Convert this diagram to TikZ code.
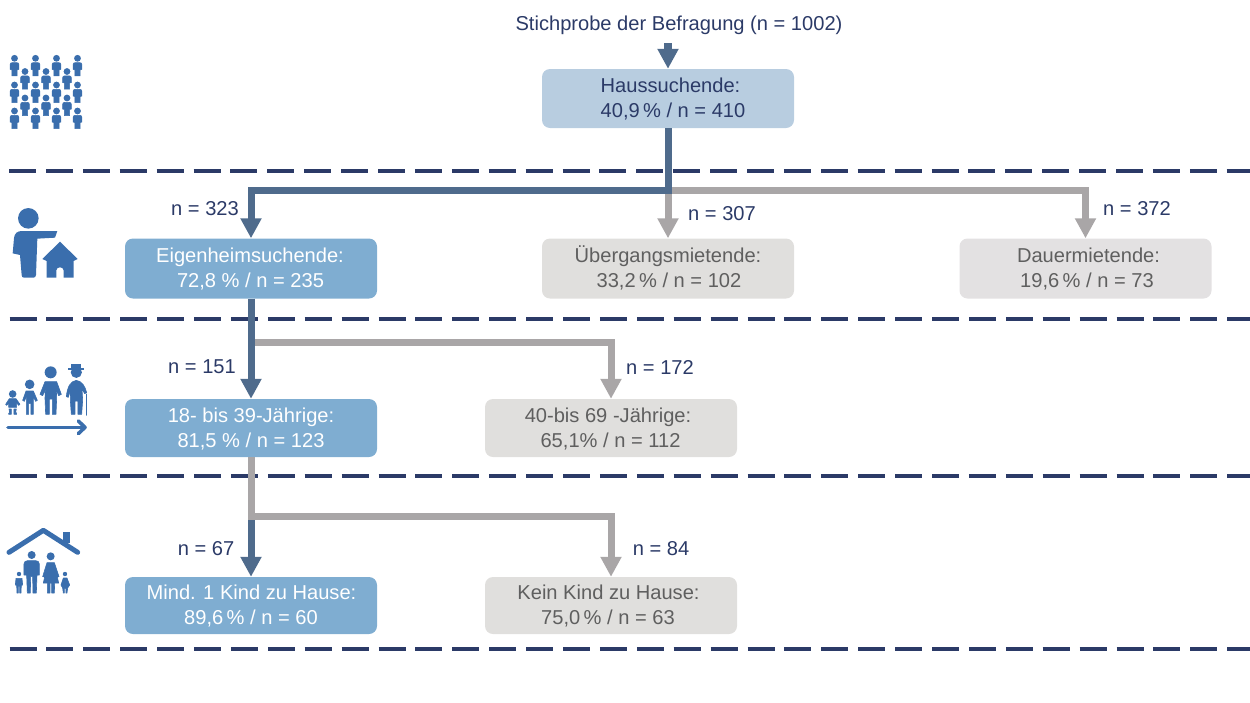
\documentclass[tikz,border=0pt]{standalone}
\usepackage{fontspec}
\setmainfont{Liberation Sans}
\usetikzlibrary{arrows.meta}
\definecolor{navy}{HTML}{2B3A67}
\definecolor{arrowblue}{HTML}{4F6B8C}
\definecolor{arrowgray}{HTML}{A9A6A7}
\definecolor{iconblue}{HTML}{3A6EAD}
\definecolor{fillhaus}{HTML}{B8CDE0}
\definecolor{fillblue}{HTML}{7FADD1}
\definecolor{fillgray}{HTML}{E0DFDD}
\definecolor{filldauer}{HTML}{E3E1E2}
\definecolor{textgray}{HTML}{5F5F5F}
\tikzset{
  box/.style={minimum width=252pt,minimum height=59pt,inner sep=0pt,rounded corners=8pt,align=center,font=\fontsize{20.1}{25}\selectfont},
  smallbox/.style={minimum height=58pt},
  hausbox/.style={box,fill=fillhaus,text=navy},
  bluebox/.style={box,fill=fillblue,text=white},
  graybox/.style={box,fill=fillgray,text=textgray},
  dauerbox/.style={box,fill=filldauer,text=textgray},
  lbl/.style={text=navy,inner sep=0pt,font=\fontsize{20.1}{25}\selectfont},
  bluearrow/.style={draw=arrowblue,line width=7pt,-{Triangle[width=20pt,length=20pt,fill=arrowblue]}},
  grayarrow/.style={draw=arrowgray,line width=7pt,-{Triangle[width=20pt,length=20pt,fill=arrowgray]}},
  grayline/.style={draw=arrowgray,line width=7pt},
  sep/.style={draw=navy,line width=3.5pt,dash pattern=on 27pt off 9.9pt},
  icon/.style={fill=iconblue,draw=none},
  iconsoft/.style={fill=iconblue,draw=iconblue,line width=0.6pt,line join=round},
  iconline/.style={draw=iconblue,line cap=round,line join=round}
}
\newcommand{\boxlines}[4]{\hspace*{#1}\rule{0pt}{20pt}#2\\\hspace*{#3}\rule[-6.4pt]{0pt}{6.4pt}#4}
\newcommand{\crowdman}[2]{%
  \begin{scope}[shift={(#1,#2)}]
    \fill[icon] (0,0) circle (3.4pt);
    \fill[iconsoft] (-4.4,11) -- (-4.4,6.5) .. controls (-4.4,5) and (-3.5,4.3) .. (-2,4.3) -- (2,4.3) .. controls (3.5,4.3) and (4.4,5) .. (4.4,6.5) -- (4.4,11) -- (2.6,11.5) -- (2.6,17.6) -- (-2.6,17.6) -- (-2.6,11.5) -- cycle;
  \end{scope}}
\begin{document}
\begin{tikzpicture}[x=1pt,y=-1pt]
\useasboundingbox (0,0) rectangle (1250,702);
% separators
\coordinate (s1a) at (9,171); \coordinate (s1b) at (1251,171);
\coordinate (s2a) at (9.5,319); \coordinate (s2b) at (1251,319);
\coordinate (s3a) at (9.5,476); \coordinate (s3b) at (1251,476);
\coordinate (s4a) at (9.5,649); \coordinate (s4b) at (1251,649);
\draw[sep] (s1a) -- (s1b);
\draw[sep] (s2a) -- (s2b);
\draw[sep] (s3a) -- (s3b);
\draw[sep] (s4a) -- (s4b);
% nodes
\node[lbl,minimum height=36pt] (top) at (679,25) {Stichprobe der Befragung (n = 1002)};
\node[hausbox] (haus) at (668,98.5) {\boxlines{5pt}{Haussuchende:}{10pt}{40,9\,\% / n = 410}};
\node[bluebox,minimum height=60pt] (eig) at (251,268.5) {\boxlines{-2pt}{Eigenheimsuchende:}{-1pt}{72,8 \% / n = 235}};
\node[graybox,minimum height=60pt] (ueb) at (668,268.5) {\boxlines{0pt}{Übergangsmietende:}{2pt}{33,2\,\% / n = 102}};
\node[dauerbox,minimum height=60pt] (dau) at (1085.5,268.5) {\boxlines{6pt}{Dauermietende:}{3pt}{19,6\,\% / n = 73}};
\node[bluebox,smallbox] (jung) at (251,428) {\boxlines{0pt}{18- bis 39-Jährige:}{0pt}{81,5 \% / n = 123}};
\node[graybox,smallbox] (alt) at (611,428) {\boxlines{-6pt}{40-bis 69 -Jährige:}{-1pt}{65,1\% / n = 112}};
\node[bluebox,minimum height=57pt] (kind) at (251,605.5) {\boxlines{1pt}{Mind. 1 Kind zu Hause:}{0pt}{89,6\,\% / n = 60}};
\node[graybox,minimum height=57pt] (kein) at (611,605.5) {\boxlines{-5pt}{Kein Kind zu Hause:}{-6pt}{75,0\,\% / n = 63}};
% labels
\node[lbl] (l1) at (205,209) {n = 323};
\node[lbl] (l2) at (722,214) {n = 307};
\node[lbl] (l3) at (1137,209) {n = 372};
\node[lbl] (l4) at (202,367) {n = 151};
\node[lbl] (l5) at (660,367) {n = 172};
\node[lbl] (l6) at (206,549) {n = 67};
\node[lbl] (l7) at (661,549) {n = 84};
% connectors
\coordinate (j1) at (668,190);
\coordinate (j2) at (251,342);
\coordinate (j3) at (251,516);
\draw[bluearrow,line width=8pt,xshift=-1pt] (haus.north |- top.south) -- (haus.north);
\draw[grayarrow] (j1) -| (dau.north);
\draw[grayarrow] (j1) -- (ueb.north);
\draw[bluearrow] (haus.south) -- (j1) -| (eig.north);
\draw[grayarrow] (j2) -| (alt.north);
\draw[bluearrow] (eig.south) -- (jung.north);
\draw[bluearrow] (j3) -- (kind.north);
\draw[grayline] (jung.south) -- (251,519.5);
\draw[grayarrow] (j3) -| (kein.north);
% icon 1: crowd
\foreach \y in {58.3,85,111} \foreach \x in {14.5,35.5,56.5,77.5} {\crowdman{\x}{\y}}
\foreach \y in {71.5,98} \foreach \x in {25,46,67} {\crowdman{\x}{\y}}
% icon 2: person pointing at house
\begin{scope}[shift={(0,195)},x=0.3333pt,y=-0.3333pt]
  \fill[icon] (85,70) circle (10.3pt);
  \fill[icon] (38,175) -- (42,130) .. controls (43,115) and (52,108) .. (66,108) -- (172,108) -- (165,128) -- (112,131) -- (108,240) .. controls (108,246) and (104,248) .. (100,248) -- (72,248) .. controls (67,248) and (65,245) .. (65,240) -- (60,180) -- cycle;
  \fill[icon] (180,140) -- (233,192) -- (221,198) -- (221,248) -- (191,248) -- (191,226) .. controls (191,214) and (169,214) .. (169,226) -- (169,248) -- (140,248) -- (140,198) -- (127,192) -- cycle;
\end{scope}
% icon 3: ages
\begin{scope}[shift={(0,355)},x=0.3333pt,y=-0.3333pt]
  % baby
  \fill[icon] (38,117) circle (3.8pt);
  \fill[iconsoft] (17,148) -- (28,131) -- (48,131) -- (60,148) -- (56,151) -- (50,144) -- (50,157) -- (26,157) -- (26,144) -- (20,151) -- cycle;
  \fill[iconsoft] (27,162) -- (34,162) -- (34,178) -- (26,178) -- (26,175) -- (29,172) -- cycle;
  \fill[iconsoft] (42,162) -- (49,162) -- (47,172) -- (50,175) -- (50,178) -- (42,178) -- cycle;
  % child
  \fill[icon] (89,88) circle (4.8pt);
  \fill[iconsoft] (68,136) -- (78,108) -- (100,108) -- (112,136) -- (107,139) -- (100,125) -- (100,178) -- (93,178) -- (93,146) -- (86,146) -- (86,178) -- (79,178) -- (79,125) -- (73,139) -- cycle;
  % adult
  \fill[icon] (152,52) circle (6pt);
  \fill[iconsoft] (120,118) -- (135,80) -- (170,80) -- (184,118) -- (176,122) -- (169,104) -- (170,130) -- (168,178) -- (157,178) -- (157,132) -- (148,132) -- (148,178) -- (137,178) -- (135,130) -- (136,104) -- (128,122) -- cycle;
  % elder
  \fill[icon] (205,38) rectangle (252,45);
  \fill[icon] (214,28) rectangle (244,42);
  \fill[icon] (229,52) circle (5.6pt);
  \fill[iconsoft] (199,125) .. controls (202,95) and (212,78) .. (229,76) .. controls (246,78) and (256,95) .. (260,113) -- (254,116) -- (246,102) -- (248,135) -- (245,178) -- (234,178) -- (234,138) -- (225,138) -- (225,178) -- (214,178) -- (211,135) -- (212,102) -- (205,127) -- cycle;
  \draw[iconline,line width=1.5pt] (259,118) -- (259,180);
  % arrow
  \draw[iconline,line width=3.6pt] (24,217) -- (253,217);
  \draw[iconline,line width=3.6pt] (235,198) -- (255,217) -- (235,236);
\end{scope}
% icon 4: family under roof
\begin{scope}[shift={(0,520)},x=0.3333pt,y=-0.3333pt]
  \fill[icon] (188,36) rectangle (210,70);
  \draw[iconline,line width=5pt] (27,97) -- (130,31) -- (233,97);
  % man
  \fill[icon] (95,105) circle (4pt);
  \fill[iconsoft] (72,165) -- (72,132) .. controls (72,125) and (77,122) .. (83,122) -- (107,122) .. controls (113,122) and (118,125) .. (118,132) -- (118,165) -- (111,165) -- (109,219) -- (99,219) -- (98,170) -- (92,170) -- (91,219) -- (82,219) -- (80,165) -- cycle;
  % woman
  \fill[icon] (152,109) circle (4pt);
  \fill[iconsoft] (128,170) -- (141,128) -- (163,128) -- (177,170) -- (172,171) -- (176,189) -- (164,189) -- (163,219) -- (155,219) -- (155,189) -- (150,189) -- (150,219) -- (142,219) -- (142,189) -- (130,189) -- (134,171) -- cycle;
  % boy
  \fill[icon] (57,162) circle (2.2pt);
  \fill[iconsoft] (46,195) -- (48,175) -- (66,175) -- (68,195) -- (64,195) -- (63,219) -- (59,219) -- (59,198) -- (55,198) -- (55,219) -- (51,219) -- (50,195) -- cycle;
  % girl
  \fill[icon] (195,162) circle (2.2pt);
  \fill[iconsoft] (183,195) -- (190,174) -- (201,174) -- (209,195) -- (203,204) -- (201,219) -- (198,219) -- (198,206) -- (193,206) -- (193,219) -- (190,219) -- (188,204) -- cycle;
\end{scope}
\end{tikzpicture}
\end{document}
